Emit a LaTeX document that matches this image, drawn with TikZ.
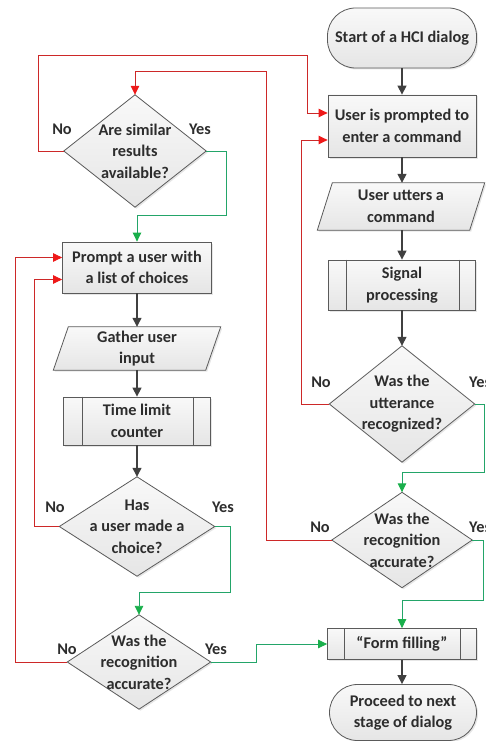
\documentclass[tikz,border=0pt]{standalone}
\usepackage{fontspec}
\setmainfont{Carlito}
\usetikzlibrary{arrows.meta,calc,shadows}
\definecolor{lnred}{RGB}{205,40,40}
\definecolor{tipred}{RGB}{238,25,25}
\definecolor{lngreen}{RGB}{35,165,105}
\definecolor{tipgreen}{RGB}{25,175,75}
\definecolor{lngray}{RGB}{64,64,64}
\definecolor{bord}{RGB}{90,90,90}
\definecolor{txt}{RGB}{45,45,45}
\pgfdeclarelayer{bg}
\pgfsetlayers{bg,main}
\begin{document}
\begin{tikzpicture}[x=1pt,y=-1pt,
  font=\fontsize{16.3}{21.5}\selectfont\bfseries,
  every node/.style={text=txt},
  shapebase/.style={draw=bord, line width=0.8pt, top color=gray!5, bottom color=gray!20,
     drop shadow={shadow xshift=1.5pt,shadow yshift=-1.5pt,opacity=0.2}},
  boxnode/.style={shapebase, rectangle, align=center, inner sep=0pt},
  stadium/.style={boxnode, rounded corners=28pt},
  hold/.style={rectangle, align=center, inner sep=0pt, draw=none},
  lbl/.style={inner sep=0pt},
  grayarr/.style={draw=lngray, line width=1.3pt, -{Triangle[length=9pt,width=9pt]}},
  redarr/.style={draw=lnred, line width=0.9pt, -{Triangle[length=9pt,width=8.5pt,color=tipred]}},
  greenarr/.style={draw=lngreen, line width=0.9pt, -{Triangle[length=9pt,width=8.5pt,color=tipgreen]}}
]
\useasboundingbox (0,0) rectangle (485,741);

% ---------- right column ----------
\node[stadium, minimum width=149pt, minimum height=60pt] (start) at (402,38) {Start of a HCI dialog};
\node[boxnode, minimum width=148pt, minimum height=62pt] (prompt) at (402,126) {User is prompted to\\enter a command};
\node[hold, minimum width=152pt, minimum height=47pt] (utter) at (401,206.5) {User utters a\\command};
\node[boxnode, minimum width=147pt, minimum height=50pt] (signal) at (402,285) {Signal\\processing};
\node[hold, minimum width=145pt, minimum height=116pt] (dutt) at (402,404) {Was the\\utterance\\recognized?};
\node[hold, minimum width=140pt, minimum height=95pt] (drec2) at (402,540) {Was the\\recognition\\accurate?};
\node[boxnode, minimum width=149pt, minimum height=31pt] (form) at (402,644) {\textquotedblleft Form filling\textquotedblright};
\node[stadium, minimum width=147pt, minimum height=56pt] (proceed) at (403,712.5) {Proceed to next\\stage of dialog};

% ---------- left column ----------
\node[hold, minimum width=142pt, minimum height=112pt] (dsim) at (135,151) {Are similar\\results\\available?};
\node[boxnode, minimum width=149pt, minimum height=51pt] (choices) at (137,267.5) {Prompt a user with\\a list of choices};
\node[hold, minimum width=152pt, minimum height=43pt] (gather) at (137,348.5) {Gather user\\input};
\node[boxnode, minimum width=147pt, minimum height=48pt] (timer) at (137,421) {Time limit\\counter};
\node[hold, minimum width=155pt, minimum height=99pt] (dhas) at (137,526.5) {Has\\a user made a\\choice?};
\node[hold, minimum width=143pt, minimum height=94pt] (drec1) at (139,662) {Was the\\recognition\\accurate?};

% ---------- shapes behind text ----------
\begin{pgfonlayer}{bg}
  \foreach \n in {dutt,drec2,dsim,dhas,drec1}{
    \path[shapebase] (\n.north) -- (\n.east) -- (\n.south) -- (\n.west) -- cycle;
  }
  \foreach \n in {utter,gather}{
    \path[shapebase] ($(\n.south west)+(-7.5,0)$) -- ($(\n.north west)+(7.5,0)$)
       -- ($(\n.north east)+(7.5,0)$) -- ($(\n.south east)+(-7.5,0)$) -- cycle;
  }
\end{pgfonlayer}

% inner bars of predefined-process boxes
\draw[bord, line width=0.8pt] ($(signal.north west)+(18,0)$) -- ($(signal.south west)+(18,0)$)
  ($(signal.north east)+(-17,0)$) -- ($(signal.south east)+(-17,0)$);
\draw[bord, line width=0.8pt] ($(timer.north west)+(19,0)$) -- ($(timer.south west)+(19,0)$)
  ($(timer.north east)+(-18,0)$) -- ($(timer.south east)+(-18,0)$);
\draw[bord, line width=0.8pt] ($(form.north west)+(17.5,0)$) -- ($(form.south west)+(17.5,0)$)
  ($(form.north east)+(-17,0)$) -- ($(form.south east)+(-17,0)$);

% ---------- gray flow ----------
\draw[grayarr] (start.south) -- (prompt.north);
\draw[grayarr] (prompt.south) -- (prompt.south |- utter.north);
\draw[grayarr] (prompt.south |- utter.south) -- (signal.north);
\draw[grayarr] (signal.south) -- (dutt.north);
\draw[grayarr] (form.south) -- (form.south |- proceed.north);
\draw[grayarr] (choices.south) -- (gather.north);
\draw[grayarr] (gather.south) -- (timer.north);
\draw[grayarr] (timer.south) -- (dhas.north);

% ---------- red (No) ----------
\draw[redarr] (dsim.west) -| (38,55) -| ($(prompt.west)+(-20,-13)$) -- ($(prompt.west)+(0,-13)$);
\draw[redarr] (dutt.west) -| ($(prompt.west)+(-26,14)$) -- ($(prompt.west)+(0,14)$);
\draw[redarr] (drec2.west) -| (266,71) -| (dsim.north);
\draw[redarr] (dhas.west) -| ($(choices.west)+(-28,12)$) -- ($(choices.west)+(0,12)$);
\draw[redarr] (drec1.west) -| ($(choices.west)+(-46.5,-10)$) -- ($(choices.west)+(0,-10)$);

% ---------- green (Yes) ----------
\draw[greenarr] (dsim.east) -| (226,215) -| (choices.north);
\draw[greenarr] (dutt.east) -| (484,472) -| (drec2.north);
\draw[greenarr] (dhas.east) -| (230,592) -| (drec1.north);
\draw[greenarr] (drec1.east) -| (256,644) -- (form.west);
\draw[greenarr] (drec2.east) -| (483,600) -| (form.north);

% ---------- labels ----------
\node[lbl] (l1) at (62,129) {No};
\node[lbl] (l2) at (200,129) {Yes};
\node[lbl] (l3) at (321,382) {No};
\node[lbl, anchor=west] (l4) at (469,382) {Yes};
\node[lbl] (l5) at (320,527) {No};
\node[lbl, anchor=west] (l6) at (469,527) {Yes};
\node[lbl] (l7) at (55,507) {No};
\node[lbl] (l8) at (223,507) {Yes};
\node[lbl] (l9) at (67,649) {No};
\node[lbl] (l10) at (216,649) {Yes};
\end{tikzpicture}
\end{document}
